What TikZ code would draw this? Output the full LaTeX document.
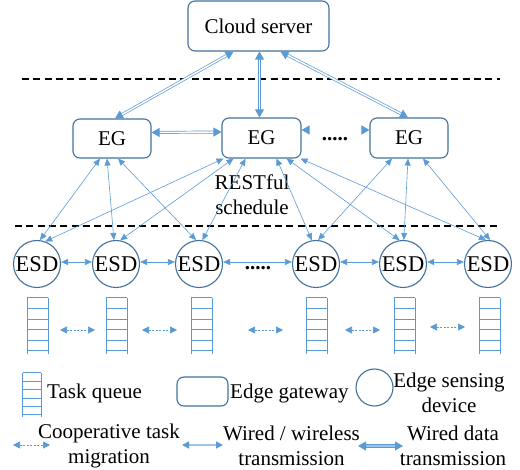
\documentclass[tikz,border=0pt]{standalone}
\usepackage{fontspec}
\setmainfont{Liberation Serif}
\usetikzlibrary{arrows.meta,calc}
\definecolor{boxc}{HTML}{41719C}
\definecolor{arrc}{HTML}{5B9BD5}
\definecolor{arrl}{HTML}{9DC3E6}
\tikzset{
 qline/.style={draw=arrc, line width=1pt},
 queue/.pic={
  \draw[qline] (-10.5,0) -- (-10.5,56) (10.5,0) -- (10.5,56);
  \foreach \k in {0,...,5} \draw[qline] (-10.5,\k*10.6) -- (10.5,\k*10.6);
  \coordinate (-l) at (-10.5,32);
  \coordinate (-r) at (10.5,32);
 }
}
\begin{document}
\begin{tikzpicture}[x=1pt,y=-1pt,
 font=\fontsize{21}{25}\selectfont,
 gw/.style={draw=boxc, line width=1.1pt, rounded corners=7pt, inner sep=0pt},
 esd/.style={draw=boxc, line width=1.1pt, circle, minimum size=47pt, inner sep=0pt, font=\fontsize{22.5}{25}\selectfont},
 wlink/.style={draw=arrc, line width=0.6pt, {Triangle[length=7pt,width=6pt]}-{Triangle[length=7pt,width=6pt]}},
 dlink/.style={draw=arrc, double=white, double distance=1.5pt, line width=0.7pt, {Triangle[length=8pt,width=9pt]}-{Triangle[length=8pt,width=9pt]}},
 mig/.style={draw=arrc, line width=0.7pt, dash pattern=on 2pt off 1.5pt, {Triangle[length=7pt,width=7pt]}-{Triangle[length=7pt,width=7pt]}},
 sep/.style={draw=black, line width=1.4pt, dash pattern=on 7pt off 4.3pt},
 dots/.style={font=\fontsize{21}{25}\selectfont\bfseries},
 lbl/.style={align=center, inner sep=0pt}
]
\useasboundingbox (0,0) rectangle (520,470);

% separators
\coordinate (s1a) at (22,79); \coordinate (s1b) at (500,79);
\coordinate (s2a) at (15,226); \coordinate (s2b) at (500,226);
\draw[sep] (s1a) -- (s1b);
\draw[sep] (s2a) -- (s2b);

% cloud and gateways
\node[gw, minimum width=141pt, minimum height=50pt] (cloud) at (258.5,26) {Cloud server};
\node[gw, minimum width=78pt, minimum height=39pt] (eg1) at (112,138.5) {EG};
\node[gw, minimum width=79pt, minimum height=40pt] (eg2) at (261.5,138) {EG};
\node[gw, minimum width=78pt, minimum height=40pt] (eg3) at (409,138) {EG};
\node[dots] (dd1) at (335,139) {.....};

% ESDs
\node[esd] (esd1) at (37,264) {ESD};
\node[esd] (esd2) at (116,264) {ESD};
\node[esd] (esd3) at (199,264) {ESD};
\node[esd] (esd4) at (316,264) {ESD};
\node[esd] (esd5) at (403,264) {ESD};
\node[esd] (esd6) at (488,264) {ESD};
\node[dots] (dd2) at (258,268) {.....};

\node[lbl] (rest) at (252,195) {RESTful\\schedule};

% cloud - EG
\draw[dlink] ([xshift=-25pt]cloud.south) -- ([xshift=3pt]eg1.north);
\draw[dlink] ([xshift=1pt]cloud.south) -- ([xshift=-2pt]eg2.north);
\draw[dlink] ([xshift=22pt]cloud.south) -- ([xshift=-1pt]eg3.north);
% EG - EG
\draw[dlink] ([yshift=6pt]eg1.east) -- ([yshift=6pt]eg2.west);
\draw[dlink] ([yshift=8pt]eg2.east) -- ([yshift=8pt]eg3.west);

% EG - ESD
\draw[wlink] ([xshift=-12pt]eg1.south) -- (esd1.83);
\draw[wlink] ([xshift=-5pt]eg1.south) -- (esd2.95);
\draw[wlink] ([xshift=6pt]eg1.south) -- (esd3.97);
\draw[wlink] ([xshift=-38pt]eg2.south) -- (esd1.70);
\draw[wlink] ([xshift=-28pt]eg2.south) -- (esd2.80);
\draw[wlink] ([xshift=-16pt]eg2.south) -- (esd3.82);
\draw[wlink] ([xshift=15pt]eg2.south) -- (esd4.100);
\draw[wlink] ([xshift=25pt]eg2.south) -- (esd5.98);
\draw[wlink] ([xshift=39pt]eg2.south) -- (esd6.95);
\draw[wlink] ([xshift=-17pt]eg3.south) -- (esd4.85);
\draw[wlink] ([xshift=-1pt]eg3.south) -- (esd5.88);
\draw[wlink] ([xshift=14pt]eg3.south) -- (esd6.85);

% ESD - ESD
\draw[wlink] ([yshift=2pt]esd1.east) -- ([yshift=2pt]esd2.west);
\draw[wlink] ([yshift=2pt]esd2.east) -- ([yshift=2pt]esd3.west);
\draw[wlink] ([yshift=2pt]esd3.east) -- ([yshift=2pt]esd4.west);
\draw[wlink] ([yshift=2pt]esd4.east) -- ([yshift=2pt]esd5.west);
\draw[wlink] ([yshift=2pt]esd5.east) -- ([yshift=2pt]esd6.west);

% queues
\pic (q1) at (37.5,298) {queue};
\pic (q2) at (116.5,298) {queue};
\pic (q3) at (201.5,298) {queue};
\pic (q4) at (316.5,298) {queue};
\pic (q5) at (404.5,298) {queue};
\pic (q6) at (489.5,298) {queue};
\draw[mig, shorten <=12pt, shorten >=11pt] (q1-r) -- (q2-l);
\draw[mig, shorten <=15pt, shorten >=14pt] (q2-r) -- (q3-l);
\draw[mig, shorten <=36pt, shorten >=23pt] (q3-r) -- (q4-l);
\draw[mig, shorten <=18pt, shorten >=14pt] (q4-r) -- (q5-l);
\draw[mig, shorten <=15pt, shorten >=14pt] ([yshift=3pt]q5-r) -- ([yshift=3pt]q6-l);

% legend
\pic[xscale=0.86, yscale=0.79] (lq) at (32,373) {queue};
\node[anchor=west, inner sep=0pt] (tq) at (47,393) {Task queue};
\node[gw, minimum width=51pt, minimum height=29pt] (lgw) at (202.5,391.5) {};
\node[anchor=west, inner sep=0pt] (tgw) at (230,393) {Edge gateway};
\node[draw=boxc, line width=1.1pt, circle, minimum size=37pt, inner sep=0pt] (lesd) at (374.5,387.5) {};
\node[lbl] (tesd) at (449,393) {Edge sensing\\device};

\coordinate (m1) at (13,445); \coordinate (m2) at (50,445);
\draw[mig] (m1) -- (m2);
\node[lbl] (tm) at (109,446) {Cooperative task\\migration};
\coordinate (w1) at (182,445); \coordinate (w2) at (223,445);
\draw[draw=arrl, line width=1.6pt, {Triangle[length=7pt,width=7pt,color=arrc]}-{Triangle[length=7pt,width=7pt,color=arrc]}] (w1) -- (w2);
\node[lbl] (tw) at (291.5,446) {Wired / wireless\\transmission};
\coordinate (d1) at (358,446); \coordinate (d2) at (403,446);
\draw[draw=arrc, double=arrl, double distance=1.6pt, line width=1pt, {Triangle[length=8pt,width=9pt]}-{Triangle[length=8pt,width=9pt]}] (d1) -- (d2);
\node[lbl] (td) at (453,446) {Wired data\\transmission};
\end{tikzpicture}
\end{document}
